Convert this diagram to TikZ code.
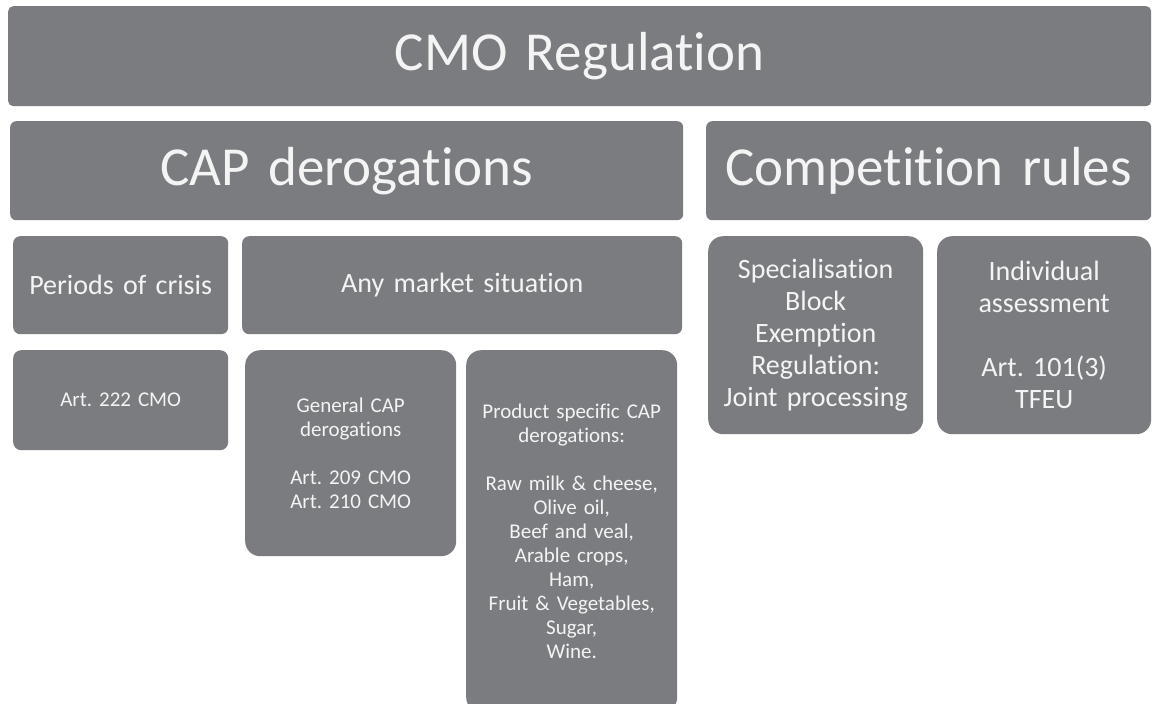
\documentclass[tikz,border=0pt]{standalone}
\usepackage{fontspec}
\setmainfont[RawFeature={-liga}]{Carlito}
\usepackage{tikz}
\usetikzlibrary{positioning}
\definecolor{boxgrey}{HTML}{7B7C80}
\definecolor{boxtext}{HTML}{F4F4F4}
\frenchspacing

\begin{document}
\begin{tikzpicture}[x=1pt, y=-1pt,
	box/.style={fill=boxgrey, text=boxtext, anchor=north west, inner sep=0pt, align=center},
	bigtext/.style={font=\fontsize{55}{60}\selectfont},
	midtext/.style={font=\fontsize{28}{32}\selectfont},
	smalltext/.style={font=\fontsize{21}{24}\selectfont}]
		\clip (0,0) rectangle (1152,704);
		\fill[white] (0,0) rectangle (1152,704);

		% top row
		\node[box, bigtext, rounded corners=5pt, text width=1143pt, minimum height=100pt] (cmo) at (8,6) {CMO Regulation};

		% second row
		\node[box, bigtext, rounded corners=6pt, text width=673pt, minimum height=99pt] (cap) at (10,121) {CAP derogations};
		\node[box, bigtext, rounded corners=6pt, text width=445pt, minimum height=99pt] (comp) at (706,121) {Competition rules};

		% third row
		\node[box, midtext, rounded corners=7pt, text width=215pt, minimum height=98pt] (crisis) at (13,236) {Periods of crisis};
		\node[box, midtext, rounded corners=7pt, text width=440pt, minimum height=98pt] (market) at (242,236) {Any market situation};
		\node[box, midtext, rounded corners=15pt, text width=215pt, minimum height=198pt] (block) at (708,236) {Specialisation\\Block\\Exemption\\Regulation:\\Joint processing};
		\node[box, midtext, rounded corners=15pt, text width=214pt, minimum height=198pt] (indiv) at (937,236) {Individual\\assessment\\[32pt]Art. 101(3)\\TFEU};

		% fourth row
		\node[box, smalltext, rounded corners=8pt, text width=215pt, minimum height=100pt] (art) at (13,350) {Art. 222 CMO};
		\node[box, smalltext, rounded corners=15pt, text width=211pt, minimum height=206pt] (general) at (245,350) {General CAP\\derogations\\[24pt]Art. 209 CMO\\Art. 210 CMO};
		\node[box, smalltext, rounded corners=15pt, text width=211pt, minimum height=362pt] (product) at (466,350) {Product specific CAP\\derogations:\\[24pt]Raw milk \& cheese,\\Olive oil,\\Beef and veal,\\Arable crops,\\Ham,\\Fruit \& Vegetables,\\Sugar,\\Wine.};

	\end{tikzpicture}
\end{document}
